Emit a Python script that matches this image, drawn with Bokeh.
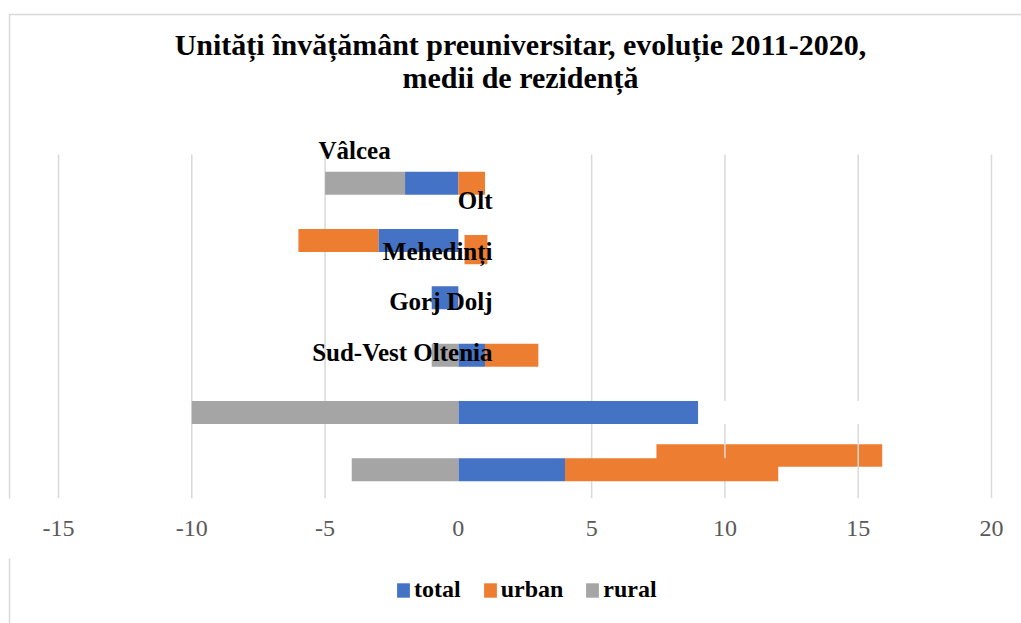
from bokeh.plotting import figure
from bokeh.layouts import column
from bokeh.models import (ColumnDataSource, Range1d, FixedTicker, Legend, LegendItem, Label)
from bokeh.core.properties import value
from bokeh.embed import file_html
from bokeh.resources import INLINE

# ---- data (rows bottom -> top) ----
categories = ["Sud-Vest Oltenia", "Dolj", "Gorj", "Mehedinți", "Olt", "Vâlcea"]
total = [4, 9, 1, -1, -3, -2]
urban = [8, 9, 2, 0, -3, 1]
rural = [-4, -10, -1, 0, 0, -3]
urban_shown = [True, False, True, True, True, True]   # Dolj urban segment is blank (white)

# stray orange shapes left over in the original chart
overlay_start = [7.43, 0.23]
overlay_end = [15.9, 1.09]
overlay_row = [0.25, 3.84]
overlay_thickness = [0.39, 0.51]

# category labels as placed in the original (misaligned text boxes)
label_text_r = ["Olt", "Mehedinți", "Gorj", "Dolj", "Sud-Vest Oltenia"]
label_x_r = [1.281, 1.281, -0.67, 1.281, 1.281]
label_y_r = [4.703, 3.808, 2.936, 2.936, 2.047]
label_text_l = ["Vâlcea"]
label_x_l = [-5.247]
label_y_l = [5.57]

title_lines = ["Unități învățământ preuniversitar, evoluție 2011-2020,", "medii de rezidență"]
series_names = ["total", "urban", "rural"]

ticks = [-15, -10, -5, 0, 5, 10, 15, 20]
grid_ticks = [-15, -10, -5, 5, 10, 15, 20]

BLUE, ORANGE, GRAY = "#4472C4", "#ED7D31", "#A5A5A5"
GRID = "#D9D9D9"
FONT = "Liberation Serif"

# ---- stacking (Excel style: positives and negatives stack separately) ----
rows = list(range(len(categories)))
keys = ("total", "urban", "urban_hidden", "rural")
segs = {k: {"y": [], "left": [], "right": []} for k in keys}
for i in rows:
    pos, neg = 0.0, 0.0
    for name, v in (("total", total[i]), ("urban", urban[i]), ("rural", rural[i])):
        if v >= 0:
            l, r = pos, pos + v
            pos = r
        else:
            l, r = neg + v, neg
            neg = l
        key = name
        if name == "urban" and not urban_shown[i]:
            key = "urban_hidden"
        segs[key]["y"].append(i)
        segs[key]["left"].append(l)
        segs[key]["right"].append(r)

# frame spans the whole width and the area from the top down to the axis
X0, X1 = -17.176, 21.125
Y0, Y1 = -0.5, 8.186
p = figure(width=1021, height=558, output_backend="svg", toolbar_location=None,
           x_range=Range1d(X0, X1), y_range=Range1d(Y0, Y1), y_axis_location=None,
           min_border_left=0, min_border_right=0, min_border_top=0, min_border_bottom=60)
p.outline_line_color = None
p.background_fill_color = "white"
p.border_fill_color = "white"
p.xgrid.visible = False
p.ygrid.visible = False

# chart-area border (top and left edges)
p.line(x=[-16.838, -16.838, X1 + 1], y=[Y0 - 1, 7.942, 7.942], line_color=GRID, line_width=1.5)

# overlay shapes drawn beneath the gridlines
ov = ColumnDataSource(dict(y=overlay_row, left=overlay_start, right=overlay_end, h=overlay_thickness))
p.hbar(y="y", left="left", right="right", height="h", source=ov,
       fill_color=ORANGE, line_color=None, level="image")

# vertical gridlines across the plot rows
p.segment(x0=grid_ticks, x1=grid_ticks, y0=[-0.5] * len(grid_ticks), y1=[5.5] * len(grid_ticks),
          line_color=GRID, line_width=1.5, level="underlay")

renderers = {}
colors = {"total": BLUE, "urban": ORANGE, "urban_hidden": "white", "rural": GRAY}
for key in keys:
    src = ColumnDataSource(segs[key])
    renderers[key] = p.hbar(y="y", left="left", right="right", height=0.4, source=src,
                            fill_color=colors[key], line_color=None)

# category labels
p.text(x=label_x_r, y=label_y_r, text=label_text_r, text_font=value(FONT),
       text_font_style="bold", text_font_size="25px", text_color="black",
       text_align="right", text_baseline="alphabetic")
p.text(x=label_x_l, y=label_y_l, text=label_text_l, text_font=value(FONT),
       text_font_style="bold", text_font_size="25px", text_color="black",
       text_align="left", text_baseline="alphabetic")

# title (two lines)
p.add_layout(Label(x=2.331, y=7.419, text=title_lines[0], text_align="center",
                   text_baseline="alphabetic", text_font=FONT, text_font_style="bold",
                   text_font_size="30px", text_color="black"))
p.add_layout(Label(x=2.331, y=6.843, text=title_lines[1], text_align="center",
                   text_baseline="alphabetic", text_font=FONT, text_font_style="bold",
                   text_font_size="30px", text_color="black"))

# x axis
xa = p.xaxis[0]
xa.ticker = FixedTicker(ticks=ticks)
xa.major_label_overrides = {t: str(t) for t in ticks}
xa.axis_line_color = None
xa.major_tick_line_color = None
xa.minor_tick_line_color = None
xa.major_tick_out = 0
xa.major_label_standoff = 22
xa.major_label_text_font = FONT
xa.major_label_text_font_size = "24px"
xa.major_label_text_color = "#595959"

# ---- legend strip below ----
q = figure(width=1021, height=65, output_backend="svg", toolbar_location=None,
           x_range=Range1d(0, 1021), y_range=Range1d(0, 65),
           x_axis_location=None, y_axis_location=None,
           min_border_left=0, min_border_right=0, min_border_top=0, min_border_bottom=0)
q.outline_line_color = None
q.xgrid.visible = False
q.ygrid.visible = False
q.line(x=[9, 9], y=[-5, 70], line_color=GRID, line_width=1.5)
legend_colors = [BLUE, ORANGE, GRAY]
items = []
for name, c in zip(series_names, legend_colors):
    # legend-key renderer kept outside the visible range; only its swatch is shown
    r = q.hbar(y=[-1000], left=[0], right=[1], height=1, fill_color=c, line_color=None)
    items.append(LegendItem(label=name, renderers=[r]))
legend = Legend(items=items, orientation="horizontal", location=(395, 20),
                label_text_font=FONT, label_text_font_style="bold",
                label_text_font_size="24px", label_text_color="black",
                glyph_width=16, glyph_height=18, label_standoff=3, spacing=21,
                label_height=24, padding=0, margin=0, border_line_color=None,
                background_fill_alpha=0)
q.add_layout(legend, "center")

layout = column(p, q, spacing=0)
open("out.html", "w").write(file_html(layout, INLINE))
